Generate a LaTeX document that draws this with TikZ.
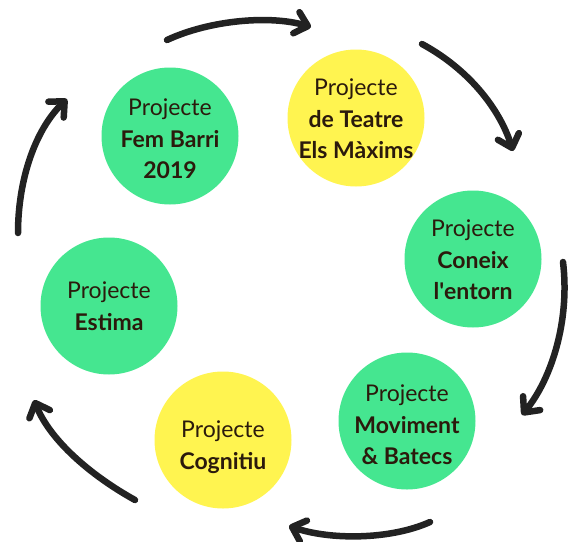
\documentclass[tikz,border=0pt]{standalone}
\usepackage{fontspec}
\setmainfont{Lato}
\usetikzlibrary{arrows.meta}
\definecolor{cgreen}{HTML}{45E690}
\definecolor{cyellow}{HTML}{FFF450}
\definecolor{ctext}{HTML}{2B1A0C}
\definecolor{carrow}{HTML}{222222}
\begin{document}
\begin{tikzpicture}[x=1pt,y=-1pt,
  disc/.style={circle,minimum size=137pt,inner sep=0pt},
  greenc/.style={disc,fill=cgreen},
  yellowc/.style={disc,fill=cyellow},
  lbl/.style={align=center,text=ctext,inner sep=0pt,
    font=\fontsize{23}{31.5}\selectfont},
  cyc/.style={draw=carrow,line width=6.5pt,line cap=round,line join=round,
    -{Straight Barb[length=12pt,width=22pt,line cap=round,line join=round]}}]
\useasboundingbox (0,0) rectangle (573,541);
\node[greenc] (fem) at (170,136) {};
\node[yellowc] (teatre) at (356,118) {};
\node[greenc] (coneix) at (473,259) {};
\node[greenc] (movi) at (407,421) {};
\node[yellowc] (cogn) at (223,440) {};
\node[greenc] (estima) at (109,306) {};
\node[lbl] (tfem) at ([yshift=-3pt]fem.center) {Projecte\\\textbf{Fem Barri}\\\textbf{2019}};
\node[lbl] (tteatre) at ([yshift=-1pt]teatre.center) {Projecte\\\textbf{de Teatre}\\\textbf{Els Màxims}};
\node[lbl] (tconeix) at ([yshift=-1pt]coneix.center) {Projecte\\\textbf{Coneix}\\\textbf{l\textquotesingle entorn}};
\node[lbl] (tmovi) at ([yshift=-4pt]movi.center) {Projecte\\\textbf{Moviment}\\\textbf{\& Batecs}};
\node[lbl] (tcogn) at ([yshift=-7pt]cogn.center) {Projecte\\\textbf{Cognitiu}};
\node[lbl] (testima) at (estima.center) {Projecte\\\textbf{Estima}};
\coordinate (a1s) at (167,40);  \coordinate (a1e) at (311,27);
\coordinate (a2s) at (422,44);  \coordinate (a2e) at (513,151);
\coordinate (a3s) at (563,262); \coordinate (a3e) at (522,415);
\coordinate (a4s) at (430,522); \coordinate (a4e) at (289,526);
\coordinate (a5s) at (135,500); \coordinate (a5e) at (34,400);
\coordinate (a6s) at (18,233);  \coordinate (a6e) at (67,99);
\draw[cyc] (a1s) .. controls (210,20) and (270,15) .. (a1e);
\draw[cyc] (a2s) .. controls (470,70) and (500,110) .. (a2e);
\draw[cyc] (a3s) .. controls (570,320) and (552,378) .. (a3e);
\draw[cyc] (a4s) .. controls (390,540) and (330,540) .. (a4e);
\draw[cyc] (a5s) .. controls (90,475) and (50,440) .. (a5e);
\draw[cyc] (a6s) .. controls (18,180) and (35,130) .. (a6e);
\end{tikzpicture}
\end{document}
